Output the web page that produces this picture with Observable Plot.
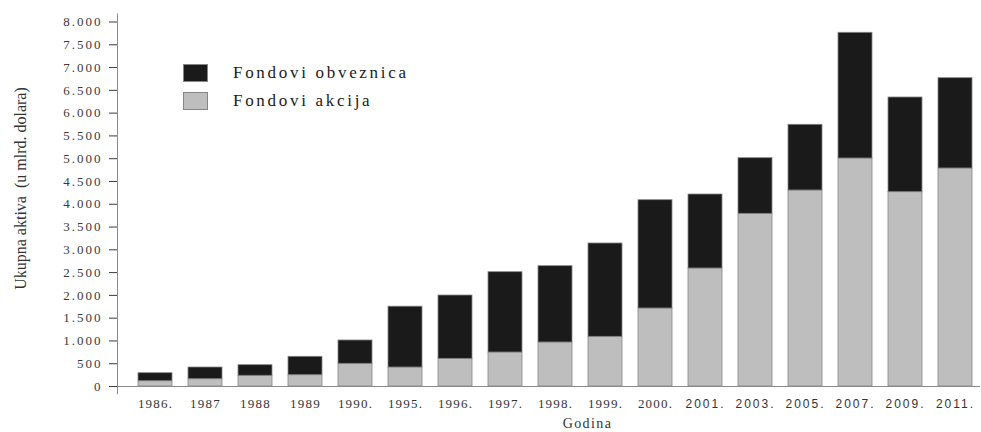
<!DOCTYPE html>
<html><head><meta charset="utf-8">
<script src="https://cdn.jsdelivr.net/npm/d3@7"></script>
<script src="https://cdn.jsdelivr.net/npm/@observablehq/plot@0.6"></script>
<style>
body{margin:0;background:#fff;}
#wrap{position:relative;width:981px;height:432px;overflow:hidden;}
.legend{position:absolute;left:183px;top:64px;font-family:"Liberation Serif",serif;font-size:17px;letter-spacing:2.7px;color:#1a1a1a;}
.row{display:flex;align-items:center;height:18px;margin-bottom:10.3px;white-space:nowrap;}
.sw{width:25px;height:18px;box-sizing:border-box;margin-right:25px;flex:none;border:1px solid #858585;}
svg g[aria-label="y-axis tick label"]{letter-spacing:2px;}
svg g[aria-label="x-axis tick label"][font-family="Liberation Serif"]{letter-spacing:1.2px;}
svg g[aria-label="x-axis tick label"][font-family="Liberation Sans"]{letter-spacing:2px;}
svg g.godina{letter-spacing:1.4px;}
</style></head><body><div id="wrap"></div>
<script>
const years = ["1986.","1987","1988","1989","1990.","1995.","1996.","1997.","1998.","1999.","2000.","2001.","2003.","2005.","2007.","2009.","2011."];
const equityFunds = [116,160,235,248,498,417,607,746,966,1090,1712,2590,3790,4302,5004,4265,4785];
const bondFunds = [176,257,233,404,512,1335,1390,1763,1675,2049,2377,1624,1221,1442,2759,2078,1982];
const seriesNames = ["Fondovi akcija","Fondovi obveznica"];
const seriesColors = ["#bebebe","#1a1a1a"];
const legendOrder = ["Fondovi obveznica","Fondovi akcija"];
const yTicks = [0,500,1000,1500,2000,2500,3000,3500,4000,4500,5000,5500,6000,6500,7000,7500,8000];
const serifYearTicks = years.slice(0,11);
const sansYearTicks = years.slice(11);
const yLabel = "Ukupna aktiva\u00a0 (u mlrd. dolara)";
const xLabel = "Godina";

const rows = [
  ...years.map((y,i)=>({year:y, series:seriesNames[0], value:equityFunds[i]})),
  ...years.map((y,i)=>({year:y, series:seriesNames[1], value:bondFunds[i]}))
];

const chart = Plot.plot({
  width:981, height:432,
  marginLeft:117, marginRight:1, marginTop:21.5, marginBottom:46,
  style:{background:"#fff"},
  x:{type:"band", domain:years, paddingInner:0.322, paddingOuter:0.2635, align:0.735, axis:null},
  y:{domain:[0,8000], axis:null},
  color:{domain:seriesNames, range:seriesColors},
  marks:[
    Plot.barY(rows, {x:"year", y:"value", fill:"series", stroke:"#858585", strokeWidth:0.8}),
    Plot.ruleY([0], {stroke:"#8a8a8a", strokeWidth:1}),
    Plot.frame({anchor:"left", stroke:"#8a8a8a", insetTop:-8, insetBottom:-7}),
    Plot.axisY(yTicks, {tickSize:8, tickPadding:7, tickFormat:d=>d3.format(",")(d).replace(/,/g,"."), fontFamily:"Liberation Serif", fontSize:13, color:"#3a3a3a", label:null}),
    Plot.axisX(serifYearTicks, {tickSize:0, tickPadding:12.5, fontFamily:"Liberation Serif", fontSize:13, color:"#333", label:null}),
    Plot.axisX(sansYearTicks, {tickSize:0, tickPadding:13.2, fontFamily:"Liberation Sans", fontSize:12, color:"#333", label:null}),
    Plot.text([yLabel], {text:d=>d, frameAnchor:"left", textAnchor:"middle", lineAnchor:"middle", rotate:-90, dx:-96.5, dy:-15.75, fontFamily:"Liberation Serif", fontSize:16, fill:"#333"}),
    Plot.text([xLabel], {text:d=>d, frameAnchor:"bottom", textAnchor:"middle", lineAnchor:"middle", dx:38.5, dy:37.5, fontFamily:"Liberation Serif", fontSize:14, fill:"#333"})
  ]
});
const tg = chart.querySelectorAll('g[aria-label="text"]');
if (tg.length) tg[tg.length-1].classList.add("godina");
const wrap = document.getElementById("wrap");
wrap.appendChild(chart);
const legend = document.createElement("div");
legend.className = "legend";
legendOrder.forEach(name=>{
  const r = document.createElement("div"); r.className="row";
  const s = document.createElement("div"); s.className="sw";
  s.style.background = seriesColors[seriesNames.indexOf(name)];
  const t = document.createElement("span"); t.textContent = name;
  r.appendChild(s); r.appendChild(t); legend.appendChild(r);
});
wrap.appendChild(legend);
</script></body></html>
